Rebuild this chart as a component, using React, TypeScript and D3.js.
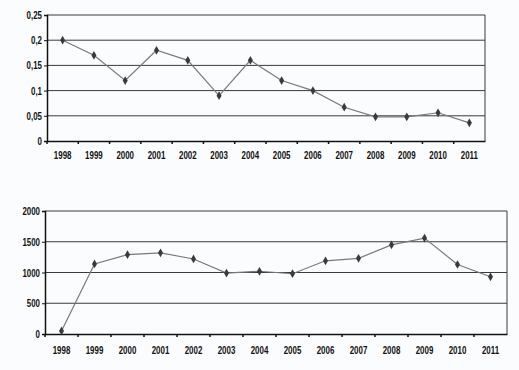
import { useEffect, useRef } from "react";
import * as d3 from "d3";

// Годы (общие для обоих графиков)
const YEARS = ["1998", "1999", "2000", "2001", "2002", "2003", "2004", "2005", "2006", "2007", "2008", "2009", "2010", "2011"];

// Верхний график
const TOP_VALUES = [0.2, 0.17, 0.12, 0.18, 0.16, 0.09, 0.16, 0.12, 0.1, 0.067, 0.048, 0.048, 0.056, 0.036];
const TOP_TICKS = [0, 0.05, 0.1, 0.15, 0.2, 0.25];

// Нижний график
const BOTTOM_VALUES = [50, 1140, 1290, 1320, 1220, 990, 1020, 980, 1190, 1230, 1450, 1560, 1130, 930];
const BOTTOM_TICKS = [0, 500, 1000, 1500, 2000];

const FONT = "'Liberation Sans', Arial, sans-serif";
const SX = 0.72; // сжатие шрифта по горизонтали

interface PanelCfg {
  values: number[];
  ticks: number[];
  max: number;
  left: number;
  right: number;
  top: number;
  bottom: number;
  labelY: number;
  fmt: (d: number) => string;
}

const App = () => {
  const svgRef = useRef<SVGSVGElement>(null);

  useEffect(() => {
    if (!svgRef.current) return;
    const svg = d3.select(svgRef.current);
    svg.selectAll("*").remove();

    svg.append("rect").attr("width", 519).attr("height", 370).attr("fill", "#fbfcfd");

    const drawPanel = (cfg: PanelCfg) => {
      const x = d3.scaleBand().domain(YEARS).range([cfg.left, cfg.right]);
      const y = d3.scaleLinear().domain([0, cfg.max]).range([cfg.bottom, cfg.top]);
      const g = svg.append("g");

      // Сетка
      g.selectAll("line.grid")
        .data(cfg.ticks.filter((t) => t > 0))
        .enter()
        .append("line")
        .attr("x1", cfg.left)
        .attr("x2", cfg.right)
        .attr("y1", (d) => y(d))
        .attr("y2", (d) => y(d))
        .attr("stroke", "#3a3a3a")
        .attr("stroke-width", 1);

      // Правая рамка
      g.append("line")
        .attr("x1", cfg.right)
        .attr("x2", cfg.right)
        .attr("y1", cfg.top)
        .attr("y2", cfg.bottom)
        .attr("stroke", "#3a3a3a");

      // Ось Y
      const yAxis = g
        .append("g")
        .attr("transform", `translate(${cfg.left},0)`)
        .call(d3.axisLeft(y).tickValues(cfg.ticks).tickSize(3).tickFormat((d) => cfg.fmt(d as number)));
      yAxis.select(".domain").attr("stroke", "#111").attr("stroke-width", 1.5);
      yAxis.selectAll("line").attr("stroke", "#111");
      yAxis
        .selectAll("text")
        .attr("x", -5 / SX)
        .attr("transform", `scale(${SX},1)`)
        .style("font-family", FONT)
        .style("font-size", "11px")
        .style("font-weight", "bold")
        .attr("fill", "#111");

      // Ось X
      const xAxis = g
        .append("g")
        .attr("transform", `translate(0,${cfg.bottom})`)
        .call(d3.axisBottom(x).tickSizeOuter(0).tickSize(0));
      xAxis.select(".domain").attr("stroke", "#111").attr("stroke-width", 1.5);
      xAxis
        .selectAll("text")
        .attr("y", cfg.labelY)
        .attr("transform", `scale(${SX},1)`)
        .style("font-family", FONT)
        .style("font-size", "11px")
        .style("font-weight", "bold")
        .attr("fill", "#111");

      // Засечки на границах категорий
      g.selectAll("line.xt")
        .data(YEARS)
        .enter()
        .append("line")
        .attr("x1", (d) => x(d)!)
        .attr("x2", (d) => x(d)!)
        .attr("y1", cfg.bottom)
        .attr("y2", cfg.bottom + 3)
        .attr("stroke", "#111")
        .attr("stroke-width", 1.5);

      // Линия
      const pts = YEARS.map((yr, i) => ({ yr, v: cfg.values[i] }));
      const line = d3
        .line<{ yr: string; v: number }>()
        .x((d) => x(d.yr)! + x.bandwidth() / 2)
        .y((d) => y(d.v));
      g.append("path")
        .datum(pts)
        .attr("fill", "none")
        .attr("stroke", "#7a7a7a")
        .attr("stroke-width", 1.2)
        .attr("d", line);

      // Маркеры-ромбы
      g.selectAll("path.pt")
        .data(pts)
        .enter()
        .append("path")
        .attr("d", d3.symbol(d3.symbolDiamond, 22)()!)
        .attr("transform", (d) => `translate(${x(d.yr)! + x.bandwidth() / 2},${y(d.v)})`)
        .attr("fill", "#3a3a3a");
    };

    drawPanel({
      values: TOP_VALUES,
      ticks: TOP_TICKS,
      max: 0.25,
      left: 47,
      right: 485,
      top: 15,
      bottom: 141,
      labelY: 10,
      fmt: (d) => (d === 0 ? "0" : String(d).replace(".", ",")),
    });

    drawPanel({
      values: BOTTOM_VALUES,
      ticks: BOTTOM_TICKS,
      max: 2000,
      left: 45,
      right: 507,
      top: 211,
      bottom: 334,
      labelY: 12,
      fmt: (d) => String(d),
    });
  }, []);

  return (
    <div style={{ position: "fixed", left: 0, top: 0, width: 519, height: 370 }}>
      <svg ref={svgRef} width={519} height={370} />
    </div>
  );
};

export default App;
